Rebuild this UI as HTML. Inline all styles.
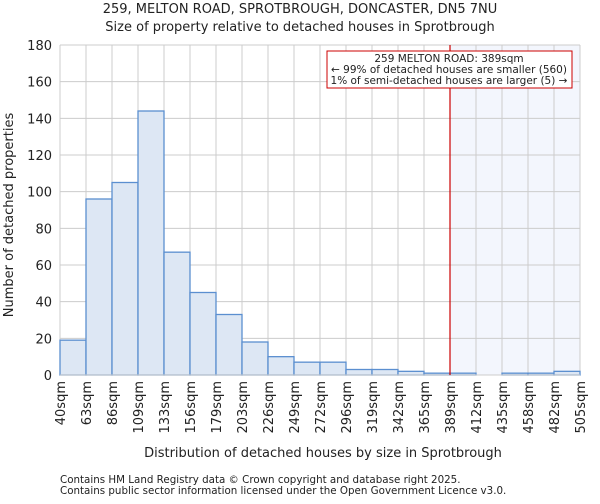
<!DOCTYPE html>
<html><head><meta charset="utf-8"><style>
body{margin:0;background:#fff;font-family:"DejaVu Sans","Liberation Sans",sans-serif;}
svg text{font-family:"DejaVu Sans","Liberation Sans",sans-serif;fill:#222;}
</style></head><body>
<svg id="chart" width="600" height="500">
<text x="300" y="13" font-size="13" text-anchor="middle">259, MELTON ROAD, SPROTBROUGH, DONCASTER, DN5 7NU</text>
<text x="300" y="31" font-size="13" text-anchor="middle">Size of property relative to detached houses in Sprotbrough</text>
<g id="grid"></g><g id="bars"></g><g id="axes"></g>
<text x="323" y="457" font-size="13" text-anchor="middle">Distribution of detached houses by size in Sprotbrough</text>
<text transform="translate(13,215) rotate(-90)" font-size="13" text-anchor="middle">Number of detached properties</text>
<text x="60" y="483" font-size="10.3" fill="#444">Contains HM Land Registry data © Crown copyright and database right 2025.</text>
<text x="60" y="494" font-size="10.3" fill="#444">Contains public sector information licensed under the Open Government Licence v3.0.</text>
</svg>
<script>
const categories=["40sqm","63sqm","86sqm","109sqm","133sqm","156sqm","179sqm","203sqm","226sqm","249sqm","272sqm","296sqm","319sqm","342sqm","365sqm","389sqm","412sqm","435sqm","458sqm","482sqm","505sqm"];
const counts=[19,96,105,144,67,45,33,18,10,7,7,3,3,2,1,1,0,1,1,2];
const yTicks=[0,20,40,60,80,100,120,140,160,180];
const markerIndex=15;
const NS="http://www.w3.org/2000/svg";
const X0=60,X1=580,Y0=375,Y1=45,YMAX=180;
const bw=(X1-X0)/counts.length;
const xs=i=>X0+i*bw, ys=v=>Y0-(v/YMAX)*(Y0-Y1);
function mk(tag,attrs,parent,txt){const e=document.createElementNS(NS,tag);for(const k in attrs)e.setAttribute(k,attrs[k]);if(txt!==undefined)e.textContent=txt;parent.appendChild(e);return e;}
const grid=document.getElementById('grid'),bars=document.getElementById('bars'),axes=document.getElementById('axes');
let sh=mk('rect',{x:xs(markerIndex),y:Y1,width:X1-xs(markerIndex),height:Y0-Y1,fill:'#f3f6fd'},grid);


yTicks.forEach(t=>{
 let l=mk('line',{x1:X0,x2:X1,y1:ys(t),y2:ys(t),stroke:'#ccc','stroke-width':1},grid);
 
 
 let tx=mk('text',{x:X0-8,y:ys(t)+5,'font-size':13,'text-anchor':'end'},axes,t);
 
 
});
categories.forEach((c,i)=>{
 let l=mk('line',{x1:xs(i),x2:xs(i),y1:Y1,y2:Y0,stroke:'#ccc','stroke-width':1},grid);
 
 
 let x=xs(i)+5,y=Y0+6;
 let tx=mk('text',{transform:`translate(${x},${y}) rotate(-90)`,'font-size':13,'text-anchor':'end'},axes,c);
 
 
});
counts.forEach((v,i)=>{
 if(v<=0)return;
 let r=mk('rect',{x:xs(i),y:ys(v),width:bw,height:Y0-ys(v),fill:'#dde7f4',stroke:'#5b8fd0','stroke-width':1.3},bars);
 
 
});
let ax=mk('line',{x1:X0,x2:X1,y1:Y0,y2:Y0,stroke:'#ccc'},axes);


let ml=mk('line',{x1:xs(markerIndex),x2:xs(markerIndex),y1:Y1,y2:Y0,stroke:'#cc0000','stroke-width':1.2},axes);


let box=mk('g',{},axes);


mk('rect',{x:327,y:51,width:245,height:37,fill:'#fff',stroke:'#cc0000','stroke-width':1},box);
mk('text',{x:449,y:62,'font-size':10.5,'text-anchor':'middle'},box,'259 MELTON ROAD: 389sqm');
mk('text',{x:449,y:73,'font-size':10.5,'text-anchor':'middle'},box,'← 99% of detached houses are smaller (560)');
mk('text',{x:449,y:84,'font-size':10.5,'text-anchor':'middle'},box,'1% of semi-detached houses are larger (5) →');
</script>
</body></html>
